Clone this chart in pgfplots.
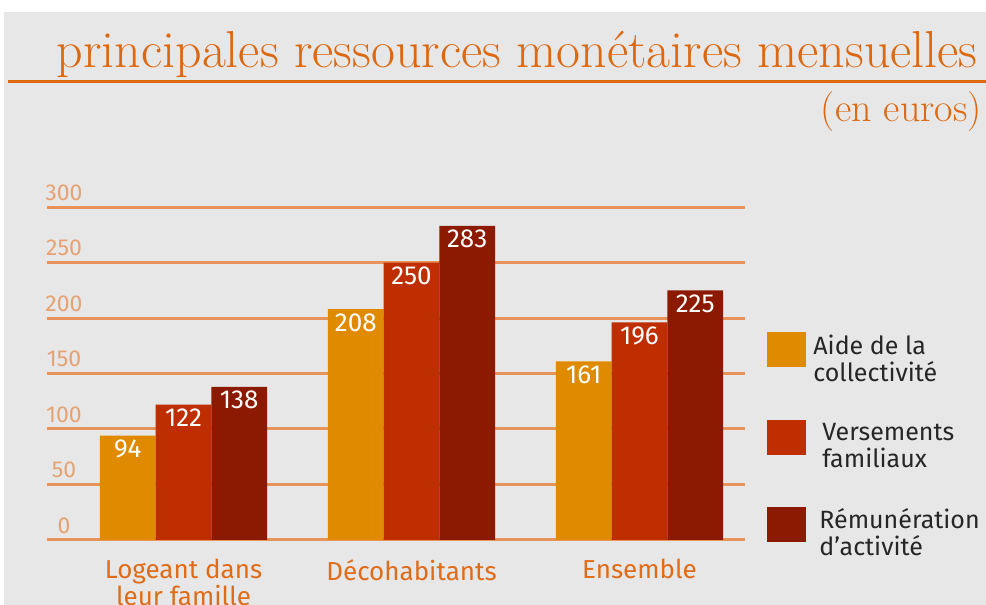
\documentclass[border=0pt]{standalone}
\usepackage{pgfplots}
\pgfplotsset{compat=1.18}
\usepackage{pgfplotstable}
\usepackage{fontspec}
\newfontfamily\din{Fira Sans}

\definecolor{bg}{HTML}{E7E7E7}
\definecolor{titleor}{HTML}{DE6810}
\definecolor{catlab}{HTML}{E06C18}
\definecolor{gridor}{HTML}{E8935A}
\definecolor{ticklab}{HTML}{E6A272}
\definecolor{aide}{HTML}{E08A00}
\definecolor{vers}{HTML}{BF2E00}
\definecolor{remu}{HTML}{8B1A00}

% montants mensuels (euros)
\pgfplotstableread{
x aide vers remu
0 94  122 138
1 208 250 283
2 161 196 225
}\ressources

\begin{document}
\begin{tikzpicture}
\useasboundingbox (0,0) rectangle (493pt,302.5pt);
\fill[white] (0,0) rectangle (493pt,302.5pt);
\fill[bg] (2pt,0) rectangle (493pt,296.5pt);
\node[anchor=base east, inner sep=0pt, text=titleor, font=\fontsize{26}{26}\selectfont]
  at (489pt,268.5pt) {principales ressources monétaires mensuelles};
\draw[titleor, line width=1.5pt] (4pt,261.5pt) -- (493pt,261.5pt);
\node[anchor=base east, inner sep=0pt, text=titleor, font=\fontsize{20}{20}\selectfont]
  at (491pt,241.5pt) {(en euros)};

\begin{axis}[
  at={(23.5pt,32.5pt)}, anchor=south west,
  scale only axis, width=349pt, height=166.5pt,
  xmin=-0.599, xmax=2.463, ymin=0, ymax=300,
  ybar=0pt, bar width=27.85pt,
  axis line style={draw=none},
  major tick length=0pt,
  ymajorgrids, grid style={gridor, line width=1.5pt},
  ytick={0,50,...,300},
  /pgf/number format/assume math mode=true,
  yticklabel style={anchor=south, inner sep=0pt, xshift=8.5pt, yshift=3pt,
    text=ticklab, font=\din\fontsize{11.5}{12}\selectfont},
  xtick=data,
  xticklabels={{Logeant dans\\leur famille},Décohabitants,Ensemble},
  xticklabel style={align=center, anchor=north, inner sep=0pt, yshift=-9.5pt,
    text=catlab, font=\din\fontsize{13}{13.5}\selectfont},
  nodes near coords, nodes near coords align={anchor=north},
  every node near coord/.append style={inner sep=0pt, yshift=-2pt, text=white,
    font=\din\fontsize{13}{13}\selectfont},
  legend style={at={(rel axis cs:1.0315,0.6246)}, anchor=north west,
    draw=none, fill=none, inner sep=0pt, row sep=18pt, column sep=3.5pt,
    nodes={inner sep=0pt, align=left, text=black!85,
      font=\din\fontsize{12.5}{13.5}\selectfont}},
  legend cell align=left,
  legend image code/.code={\fill[#1,draw=none] (0pt,-4pt) rectangle (19.5pt,13.5pt);},
]
\addplot[fill=aide, draw=none] table[x=x, y=aide] {\ressources};
\addlegendentry{Aide de la\\collectivité}
\addplot[fill=vers, draw=none] table[x=x, y=vers] {\ressources};
\addlegendentry{\hspace*{4.5pt}Versements\\\hspace*{4.5pt}familiaux}
\addplot[fill=remu, draw=none] table[x=x, y=remu] {\ressources};
\addlegendentry{\hspace*{3pt}Rémunération\\\hspace*{3pt}d’activité}
\end{axis}
\end{tikzpicture}
\end{document}
